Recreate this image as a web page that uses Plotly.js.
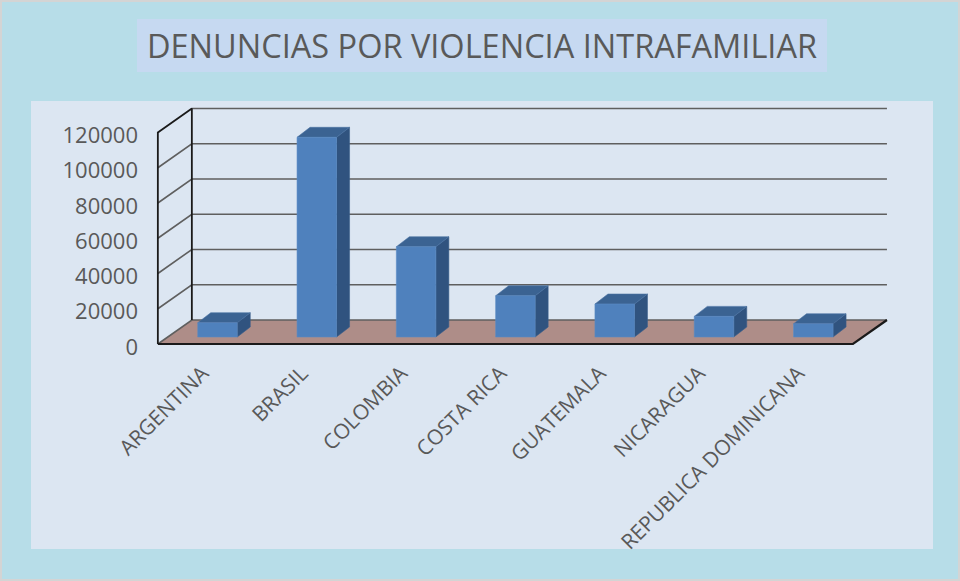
<!DOCTYPE html>
<html>
<head>
<meta charset="utf-8">
<script src="https://cdn.plot.ly/plotly-3.0.1.min.js"></script>
<style>html,body{margin:0;padding:0;background:#b7dde8;}#chart{width:960px;height:581px;}</style>
</head>
<body>
<div id="chart"></div>
<script>
// ---- data ----
const categories = ['ARGENTINA', 'BRASIL', 'COLOMBIA', 'COSTA RICA', 'GUATEMALA', 'NICARAGUA', 'REPUBLICA DOMINICANA'];
const denuncias = [8100, 113300, 51200, 23400, 18700, 11700, 7500];
const yTickValues = [0, 20000, 40000, 60000, 80000, 100000, 120000];
const yTickLabels = ['0', '20000', '40000', '60000', '80000', '100000', '120000'];
const chartTitle = 'DENUNCIAS POR VIOLENCIA INTRAFAMILIAR';

// ---- layout geometry (pixels) ----
const W = 960, H = 581;
const L = 140, R = 900, T = 100, B = 356;       // plot area
const X0PX = 207.5, CATPX = 99.3;                // front plane: category 0 centre, px per category
const Y0PX = 344, VALPX = 211.5 / 120000;        // front plane: zero line, px per unit
const WALL = {dx: 34, dy: 24};                   // depth of back wall (px)
const BARPOS = {dx: 10, dy: 7};                  // depth of bar front face (px)
const BARDEP = {dx: 13, dy: 10};                 // bar depth (px)
const BARW = 39.5;                               // bar width (px)

const px2x = p => p / CATPX;
const px2y = p => p / VALPX;
const xRange = [-(X0PX - L) / CATPX, (R - X0PX) / CATPX];
const yRange = [-(B - Y0PX) / VALPX, (Y0PX - T) / VALPX];
const n = categories.length;
const xFront0 = -0.5, xFront1 = n - 0.5;
const wdx = px2x(WALL.dx), wdy = px2y(WALL.dy);

const traces = [];
// floor
traces.push({x: [xFront0, xFront0 + wdx, xFront1 + wdx, xFront1, xFront0],
  y: [0, wdy, wdy, 0, 0], mode: 'lines', fill: 'toself', fillcolor: '#ae8d88',
  line: {width: 0}, hoverinfo: 'skip'});

// gridlines: diagonal on left wall + horizontal on back wall
const gx = [], gy = [];
yTickValues.forEach((v, k) => {
  if (k === yTickValues.length - 1) return;
  gx.push(xFront0, xFront0 + wdx, xFront1 + wdx, null);
  gy.push(v, v + wdy, v + wdy, null);
});
const yTop = yTickValues[yTickValues.length - 1];
gx.push(xFront0 + wdx, xFront1 + wdx); gy.push(yTop + wdy, yTop + wdy);
traces.push({x: gx, y: gy, mode: 'lines', line: {color: '#5f5f5f', width: 1.6}, hoverinfo: 'skip'});
// dark frame: front vertical, top diagonal, back vertical
traces.push({x: [xFront0, xFront0, xFront0 + wdx, xFront0 + wdx],
  y: [0, yTop, yTop + wdy, wdy], mode: 'lines', line: {color: '#1a1a1a', width: 1.8}, hoverinfo: 'skip'});
// floor front edge
traces.push({x: [xFront0, xFront1, xFront1 + wdx], y: [0, 0, wdy], mode: 'lines',
  line: {color: '#1a1a1a', width: 2.2}, hoverinfo: 'skip'});

// bars
const bx = px2x(BARPOS.dx), by = px2y(BARPOS.dy);
const ddx = px2x(BARDEP.dx), ddy = px2y(BARDEP.dy);
const hw = px2x(BARW / 2);
const fx = [], fy = [], tx = [], ty = [], sx = [], sy = [];
denuncias.forEach((v, i) => {
  const xl = i + bx - hw, xr = i + bx + hw, yb = by, yt = by + v;
  fx.push(xl, xl, xr, xr, xl, null); fy.push(yb, yt, yt, yb, yb, null);
  tx.push(xl, xl + ddx, xr + ddx, xr, xl, null); ty.push(yt, yt + ddy, yt + ddy, yt, yt, null);
  sx.push(xr, xr, xr + ddx, xr + ddx, xr, null); sy.push(yb, yt, yt + ddy, yb + ddy, yb, null);
});
traces.push({x: sx, y: sy, mode: 'lines', fill: 'toself', fillcolor: '#30537f', line: {color: '#3a5f8c', width: 0.6}, hoverinfo: 'skip'});
traces.push({x: tx, y: ty, mode: 'lines', fill: 'toself', fillcolor: '#3b6392', line: {color: '#4a72a3', width: 0.6}, hoverinfo: 'skip'});
traces.push({x: fx, y: fy, mode: 'lines', fill: 'toself', fillcolor: '#4f81bd', line: {color: '#5b8bc4', width: 0.6}, hoverinfo: 'skip'});

// helpers for pixel -> paper coords
const pw = R - L, ph = B - T;
const paperX = p => (p - L) / pw;
const paperY = p => (B - p) / ph;

const layout = {
  width: W, height: H,
  margin: {l: L, r: W - R, t: T, b: H - B, pad: 0},
  paper_bgcolor: '#b7dde8',
  plot_bgcolor: 'rgba(0,0,0,0)',
  showlegend: false,
  title: {text: chartTitle, font: {family: 'Open Sans', size: 32.5, color: '#595959'},
    xref: 'container', yref: 'container', x: 482 / W, xanchor: 'center', y: 1 - 47 / H, yanchor: 'middle'},
  xaxis: {range: xRange, showgrid: false, zeroline: false, showline: false, ticks: '',
    tickmode: 'array', tickvals: categories.map((c, i) => i), ticktext: categories, tickangle: -45,
    ticklabelshift: -5,
    tickfont: {family: 'Open Sans', size: 21, color: '#595959'}, fixedrange: true},
  yaxis: {range: yRange, showgrid: false, zeroline: false, showline: false, ticks: '',
    tickmode: 'array', tickvals: yTickValues, ticktext: yTickLabels,
    ticklabelstandoff: 1, ticklabelshift: 3,
    tickfont: {family: 'Open Sans', size: 22, color: '#595959'}, fixedrange: true},
  shapes: [
    {type: 'rect', xref: 'paper', yref: 'paper', layer: 'below',
      x0: paperX(31), x1: paperX(933), y0: paperY(549), y1: paperY(101),
      fillcolor: '#dce6f2', line: {width: 0}},
    {type: 'rect', xref: 'paper', yref: 'paper', layer: 'below',
      x0: paperX(137), x1: paperX(827), y0: paperY(72), y1: paperY(19),
      fillcolor: '#c6d9f1', line: {width: 0}},
    {type: 'rect', xref: 'paper', yref: 'paper', layer: 'below',
      x0: paperX(1), x1: paperX(959), y0: paperY(580), y1: paperY(1),
      fillcolor: 'rgba(0,0,0,0)', line: {width: 2, color: '#d4d4d4'}}
  ]
};

Plotly.newPlot('chart', traces, layout, {displayModeBar: false, staticPlot: true});
</script>
</body>
</html>
